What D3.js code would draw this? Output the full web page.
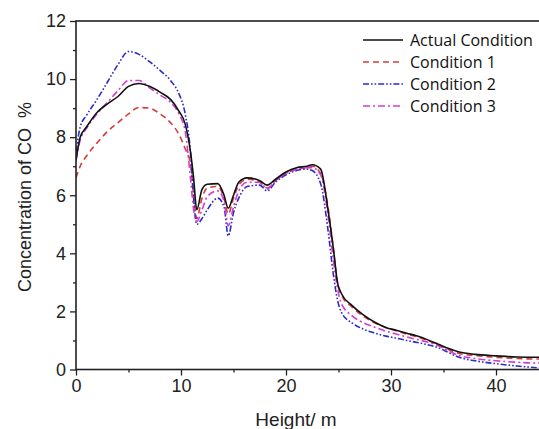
<head>
    <script src="https://d3js.org/d3.v7.min.js"></script>
    <style>
        body { margin: 0; background: #fff; }
        svg { display: block; font-family: "Liberation Sans", Arial, sans-serif; }
    </style>
</head>
<body>
    <script>
        // heights (m) shared by every series
        const heights = [0, 0.4, 1, 2, 3, 4, 5, 6, 7, 8,
            9, 9.8, 10.4, 10.9, 11.2, 11.5, 12, 12.5, 13.5, 14.1,
            14.5, 15, 15.5, 16.3, 17.5, 18.2, 19, 20, 21, 22,
            22.5, 23.3, 24, 24.5, 24.9, 25.3, 26.3, 27.3, 28.5, 29.5,
            30.5, 31.5, 32.5, 33.5, 34.5, 35.5, 36.5, 38, 40, 42,
            44, 45]

        const actual = [7.2, 8.0, 8.35, 8.85, 9.15, 9.4, 9.75, 9.85, 9.75, 9.55,
            9.3, 8.9, 8.45, 7.5, 6.6, 5.5, 6.2, 6.38, 6.4, 6.0,
            5.55, 6.0, 6.45, 6.6, 6.5, 6.35, 6.55, 6.8, 6.95, 7.0,
            7.05, 6.9, 5.5, 4.2, 3.0, 2.6, 2.2, 1.9, 1.62, 1.45,
            1.35, 1.25, 1.15, 1.02, 0.87, 0.72, 0.6, 0.52, 0.47, 0.43,
            0.42, 0.42]

        const cond1 = [6.6, 7.0, 7.35, 7.8, 8.2, 8.5, 8.8, 9.02, 9.0, 8.8,
            8.5, 8.1, 7.6, 7.1, 6.0, 5.2, 5.9, 6.25, 6.3, 5.9,
            5.35, 5.9, 6.35, 6.55, 6.45, 6.25, 6.5, 6.75, 6.9, 6.95,
            7.0, 6.75, 5.6, 4.2, 3.0, 2.55, 2.15, 1.85, 1.6, 1.45,
            1.33, 1.22, 1.12, 1.0, 0.85, 0.68, 0.55, 0.48, 0.42, 0.38,
            0.36, 0.36]

        const cond2 = [7.5, 8.35, 8.75, 9.3, 9.9, 10.5, 10.95, 10.85, 10.6, 10.3,
            9.95, 9.5, 8.8, 7.5, 5.9, 5.0, 5.2, 5.5, 5.9, 5.6,
            4.6, 5.4, 5.9, 6.3, 6.35, 6.15, 6.45, 6.7, 6.85, 6.9,
            6.85, 6.4, 4.8, 3.3, 2.4, 1.95, 1.6, 1.4, 1.25, 1.15,
            1.08, 1.0, 0.93, 0.85, 0.75, 0.58, 0.42, 0.3, 0.2, 0.12,
            0.06, 0.05]

        const cond3 = [7.2, 7.9, 8.3, 8.8, 9.2, 9.6, 9.95, 9.95, 9.7, 9.45,
            9.2, 8.8, 8.2, 6.6, 5.5, 5.1, 5.5, 5.95, 6.15, 5.8,
            4.95, 5.6, 6.15, 6.45, 6.45, 6.22, 6.5, 6.75, 6.9, 6.95,
            6.95, 6.7, 5.3, 3.8, 2.8, 2.25, 1.85, 1.62, 1.45, 1.32,
            1.22, 1.12, 1.03, 0.94, 0.82, 0.63, 0.48, 0.38, 0.3, 0.25,
            0.22, 0.22]

        const seriesNames = ['Actual Condition', 'Condition 1', 'Condition 2', 'Condition 3']
        const xTicks = [0, 10, 20, 30, 40]
        const yTicks = [0, 2, 4, 6, 8, 10, 12]

        const width = 539
        const height = 429
        const plotLeft = 76, plotRight = 548.5, plotTop = 21, plotBottom = 369.5

        const svg = d3.select('body').append('svg').attr('width', width).attr('height', height)

        const x = d3.scaleLinear().domain([0, 45]).range([plotLeft, plotRight])
        const y = d3.scaleLinear().domain([0, 12]).range([plotBottom, plotTop])

        const styles = [
            { color: '#111', dash: null },
            { color: '#d83a3a', dash: '6,4' },
            { color: '#2b2bc8', dash: '6,2,1.6,2,1.6,2' },
            { color: '#cf3fcf', dash: '7,3,2,3' },
        ]
        const values = [actual, cond1, cond2, cond3]

        svg.append('clipPath').attr('id', 'plot')
            .append('rect').attr('x', plotLeft).attr('y', plotTop)
            .attr('width', plotRight - plotLeft).attr('height', plotBottom - plotTop)

        const line = d3.line()
            .x(d => x(d[0]))
            .y(d => y(d[1]))
            .curve(d3.curveMonotoneX)

        // draw the conditions first, actual on top
        const order = [1, 2, 3, 0]
        order.forEach(i => {
            const pts = heights.map((h, j) => [h, values[i][j]])
            svg.append('path')
                .attr('d', line(pts))
                .attr('clip-path', 'url(#plot)')
                .style('fill', 'none')
                .style('stroke', styles[i].color)
                .style('stroke-width', 1.6)
                .style('stroke-dasharray', styles[i].dash)
        })

        // axes
        const axisX = d3.axisBottom(x).tickValues(xTicks).tickSize(6).tickPadding(4)
        const axisY = d3.axisLeft(y).tickValues(yTicks).tickSize(6).tickPadding(4)
        const minorX = d3.axisBottom(x).tickValues(d3.range(5, 45, 10)).tickSize(3).tickFormat('')
        const minorY = d3.axisLeft(y).tickValues(d3.range(1, 12, 2)).tickSize(3).tickFormat('')

        svg.append('g').attr('transform', 'translate(0,' + plotBottom + ')').call(axisX)
        svg.append('g').attr('transform', 'translate(0,' + plotBottom + ')').call(minorX)
        svg.append('g').attr('transform', 'translate(' + plotLeft + ',0)').call(axisY)
        svg.append('g').attr('transform', 'translate(' + plotLeft + ',0)').call(minorY)

        svg.selectAll('.domain').remove()
        svg.selectAll('.tick line').style('stroke', '#222').style('stroke-width', 1.3)
        svg.selectAll('.tick text').style('font-size', '18px').style('fill', '#222')
            .style('font-family', '"Liberation Sans", Arial, sans-serif')

        // frame
        svg.append('rect')
            .attr('x', plotLeft).attr('y', plotTop)
            .attr('width', plotRight - plotLeft).attr('height', plotBottom - plotTop)
            .style('fill', 'none').style('stroke', '#222').style('stroke-width', 1.6)

        // axis titles
        svg.append('text')
            .attr('transform', 'translate(31,197) rotate(-90)')
            .attr('text-anchor', 'middle')
            .style('font-size', '18px').style('fill', '#222').style('white-space', 'pre')
            .text('Concentration of CO  %')

        svg.append('text')
            .attr('x', 296).attr('y', 426)
            .attr('text-anchor', 'middle')
            .style('font-size', '19px').style('fill', '#222')
            .text('Height/ m')

        // legend
        const legend = svg.append('g').attr('transform', 'translate(363,40)')
        seriesNames.forEach((name, i) => {
            const row = legend.append('g').attr('transform', 'translate(0,' + i * 22 + ')')
            row.append('line')
                .attr('x1', 0).attr('x2', 40).attr('y1', 0).attr('y2', 0)
                .style('stroke', styles[i].color)
                .style('stroke-width', 1.6)
                .style('stroke-dasharray', styles[i].dash)
            row.append('text')
                .attr('x', 47).attr('y', 5.5)
                .style('font-family', '"Open Sans", sans-serif')
                .style('font-size', '16px').style('fill', '#111')
                .text(name)
        })
    </script>
</body>
